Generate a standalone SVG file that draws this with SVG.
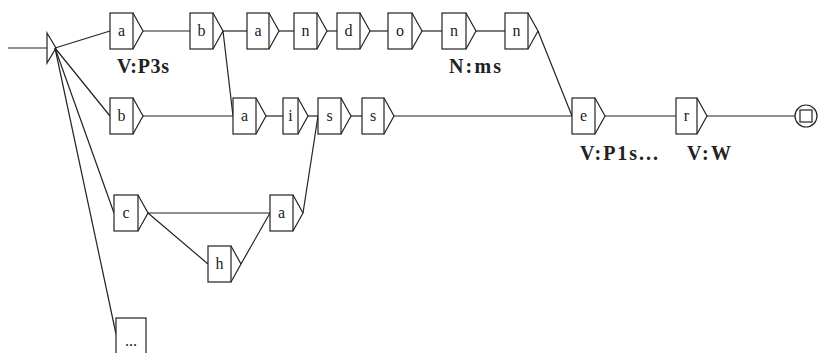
<svg xmlns="http://www.w3.org/2000/svg" width="818" height="353" viewBox="0 0 818 353">
<style>
.box{fill:#fff;stroke:#222;stroke-width:1.2}
.tri{fill:none;stroke:#222;stroke-width:1.2}
.lbl{font-family:"Liberation Serif",serif;font-size:16px;fill:#222;text-anchor:middle}
.out{font-family:"Liberation Serif",serif;font-size:20px;font-weight:bold;fill:#222}
.conn line{stroke:#222;stroke-width:1.2;fill:none}
</style>
<rect width="818" height="353" fill="#fff"/>
<g class="conn" id="connectors">
<line x1="8" y1="48" x2="47" y2="48"/>
<line x1="55" y1="48" x2="110" y2="31"/>
<line x1="55" y1="48" x2="110" y2="116"/>
<line x1="55" y1="48" x2="114" y2="213"/>
<line x1="55" y1="48" x2="116" y2="334"/>
<line x1="143" y1="31" x2="190" y2="31"/>
<line x1="223" y1="31" x2="247" y2="31"/>
<line x1="223" y1="31" x2="233" y2="116"/>
<line x1="279" y1="31" x2="294" y2="31"/>
<line x1="327" y1="31" x2="337" y2="31"/>
<line x1="370" y1="31" x2="388" y2="31"/>
<line x1="422" y1="31" x2="442" y2="31"/>
<line x1="476" y1="31" x2="505" y2="31"/>
<line x1="538" y1="31" x2="572" y2="116"/>
<line x1="143" y1="116" x2="233" y2="116"/>
<line x1="266" y1="116" x2="283" y2="116"/>
<line x1="308" y1="116" x2="318" y2="116"/>
<line x1="351" y1="116" x2="362" y2="116"/>
<line x1="394" y1="116" x2="572" y2="116"/>
<line x1="605" y1="116" x2="676" y2="116"/>
<line x1="707" y1="116" x2="795" y2="116"/>
<line x1="148" y1="213" x2="270" y2="213"/>
<line x1="148" y1="213" x2="208" y2="264"/>
<line x1="241" y1="264" x2="270" y2="213"/>
<line x1="303" y1="213" x2="318" y2="116"/>
</g>
<g id="start"><polygon points="47,33 56,48 47,63" class="tri"/></g>
<g id="n_a1"><rect class="box" x="110" y="13" width="23" height="36"/><path class="tri" d="M133,13 L143,31 L133,49"/><text class="lbl" x="121.5" y="36">a</text><text class="out" x="117" y="73" textLength="52" lengthAdjust="spacing">V:P3s</text></g>
<g id="n_b1"><rect class="box" x="190" y="13" width="23" height="36"/><path class="tri" d="M213,13 L223,31 L213,49"/><text class="lbl" x="201.5" y="36">b</text></g>
<g id="n_a2"><rect class="box" x="247" y="13" width="22" height="36"/><path class="tri" d="M269,13 L279,31 L269,49"/><text class="lbl" x="258" y="36">a</text></g>
<g id="n_n1"><rect class="box" x="294" y="13" width="23" height="36"/><path class="tri" d="M317,13 L327,31 L317,49"/><text class="lbl" x="305.5" y="36">n</text></g>
<g id="n_d"><rect class="box" x="337" y="13" width="23" height="36"/><path class="tri" d="M360,13 L370,31 L360,49"/><text class="lbl" x="348.5" y="36">d</text></g>
<g id="n_o"><rect class="box" x="388" y="13" width="24" height="36"/><path class="tri" d="M412,13 L422,31 L412,49"/><text class="lbl" x="400" y="36">o</text></g>
<g id="n_n2"><rect class="box" x="442" y="13" width="24" height="36"/><path class="tri" d="M466,13 L476,31 L466,49"/><text class="lbl" x="454" y="36">n</text><text class="out" x="449" y="73" textLength="52" lengthAdjust="spacing">N:ms</text></g>
<g id="n_n3"><rect class="box" x="505" y="13" width="23" height="36"/><path class="tri" d="M528,13 L538,31 L528,49"/><text class="lbl" x="516.5" y="36">n</text></g>
<g id="n_b2"><rect class="box" x="110" y="98" width="23" height="36"/><path class="tri" d="M133,98 L143,116 L133,134"/><text class="lbl" x="121.5" y="121">b</text></g>
<g id="n_a3"><rect class="box" x="233" y="98" width="23" height="36"/><path class="tri" d="M256,98 L266,116 L256,134"/><text class="lbl" x="244.5" y="121">a</text></g>
<g id="n_i"><rect class="box" x="283" y="98" width="15" height="36"/><path class="tri" d="M298,98 L308,116 L298,134"/><text class="lbl" x="290.5" y="121">i</text></g>
<g id="n_s1"><rect class="box" x="318" y="98" width="23" height="36"/><path class="tri" d="M341,98 L351,116 L341,134"/><text class="lbl" x="329.5" y="121">s</text></g>
<g id="n_s2"><rect class="box" x="362" y="98" width="22" height="36"/><path class="tri" d="M384,98 L394,116 L384,134"/><text class="lbl" x="373" y="121">s</text></g>
<g id="n_e"><rect class="box" x="572" y="98" width="23" height="36"/><path class="tri" d="M595,98 L605,116 L595,134"/><text class="lbl" x="583.5" y="121">e</text><text class="out" x="580" y="160" textLength="78" lengthAdjust="spacing">V:P1s...</text></g>
<g id="n_r"><rect class="box" x="676" y="98" width="21" height="36"/><path class="tri" d="M697,98 L707,116 L697,134"/><text class="lbl" x="686.5" y="121">r</text><text class="out" x="687" y="160" textLength="44" lengthAdjust="spacing">V:W</text></g>
<g id="final"><circle cx="806" cy="116" r="11" class="tri"/><rect x="800" y="110" width="12" height="12" class="tri"/></g>
<g id="n_c"><rect class="box" x="114" y="195" width="24" height="36"/><path class="tri" d="M138,195 L148,213 L138,231"/><text class="lbl" x="126" y="218">c</text></g>
<g id="n_a4"><rect class="box" x="270" y="195" width="23" height="36"/><path class="tri" d="M293,195 L303,213 L293,231"/><text class="lbl" x="281.5" y="218">a</text></g>
<g id="n_h"><rect class="box" x="208" y="246" width="23" height="36"/><path class="tri" d="M231,246 L241,264 L231,282"/><text class="lbl" x="219.5" y="269">h</text></g>
<g id="n_more"><rect class="box" x="116" y="318" width="30" height="42"/><text class="lbl" x="131" y="346">...</text></g>
</svg>
